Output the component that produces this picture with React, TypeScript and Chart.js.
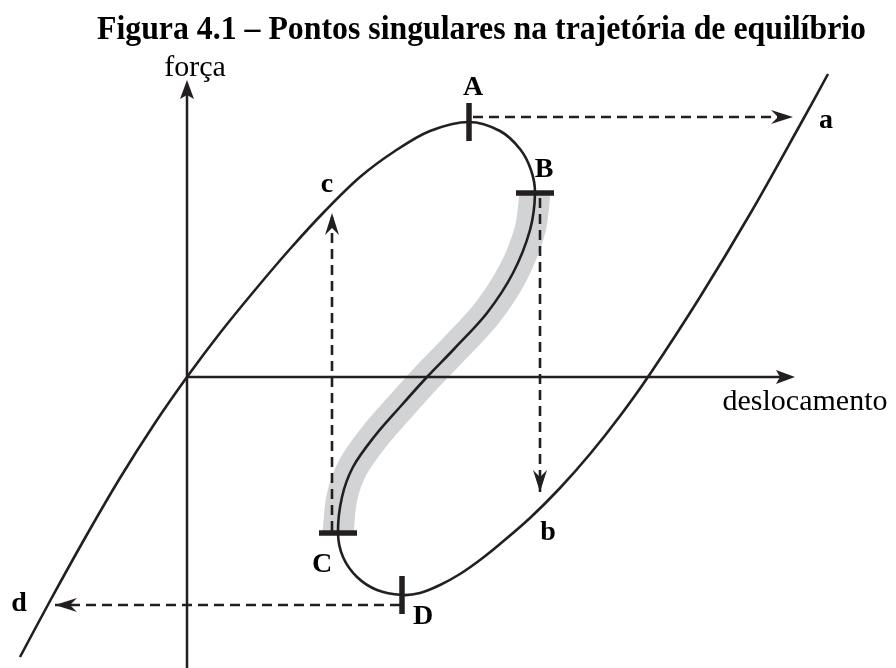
import { useEffect, useRef } from "react";
import { Chart, registerables } from "chart.js";

Chart.register(...registerables);

const TITLE = "Figura 4.1 – Pontos singulares na trajetória de equilíbrio";
const X_LABEL = "deslocamento";
const Y_LABEL = "força";

// Equilibrium path (deslocamento, força), traced from d up to a
const pathX = [
  -16.7, -13.7, -10.2, -6.7, -3.2, 0.0, 3.3, 6.8, 10.3, 13.8, 17.3, 20.8, 24.3, 28.2, 31.3, 33.3, 34.4, 34.8,
  34.3, 32.6, 30.0, 26.8, 24.0, 21.3, 18.7, 16.6, 15.5, 15.1, 15.6, 17.0, 19.0, 21.5, 23.3, 25.3, 27.3, 29.3,
  31.3, 34.3, 37.3, 40.3, 43.3, 46.3, 51.3, 56.3, 61.3, 64.1,
];
const pathY = [
  -28.0, -22.4, -16.1, -10.1, -4.6, 0.0, 4.4, 8.7, 12.8, 16.6, 20.0, 22.6, 24.6, 25.5, 24.6, 22.8, 20.7, 18.4,
  14.7, 10.4, 6.4, 2.9, 0.0, -3.0, -6.0, -9.0, -12.0, -15.6, -18.0, -20.0, -21.3, -21.8, -21.6, -20.8, -19.7,
  -18.3, -16.7, -14.1, -11.1, -7.7, -3.9, 0.3, 8.0, 16.3, 25.2, 30.3,
];

// Unstable branch B–C (shaded), indices into the path
const unstableStart = 17;
const unstableEnd = 27;

// Singular points on the path
const singularNames = ["A", "B", "C", "D"];
const singularX = [28.2, 34.8, 15.1, 21.5];
const singularY = [25.5, 18.4, -15.6, -21.8];
const singularMarkVertical = [true, false, false, true];

// Snap-through jumps (dashed arrows)
const jumpFromX = [28.6, 35.3, 14.5, 21.3];
const jumpFromY = [26.0, 17.9, -15.4, -22.8];
const jumpToX = [60.6, 35.3, 14.5, -13.2];
const jumpToY = [26.0, -11.5, 16.4, -22.8];

// Point labels
const pointLabels = ["A", "B", "C", "D", "a", "b", "c", "d"];
const pointLabelX = [28.6, 35.7, 13.5, 23.6, 63.9, 36.1, 14.0, -16.8];
const pointLabelY = [28.9, 20.7, -18.8, -24.0, 25.6, -15.6, 19.2, -22.7];

// Axes extents
const axisXEnd = 60.8;
const axisYStart = -29.1;
const axisYEnd = 29.7;

const INK = "#231f20";
const SHADE = "#d1d3d4";
const SERIF = "'Liberation Serif', 'Times New Roman', serif";

type Pt = { x: number; y: number };

function drawStealth(
  ctx: CanvasRenderingContext2D,
  tip: Pt,
  from: Pt,
  len: number,
  halfW: number,
  notch: number
) {
  const a = Math.atan2(tip.y - from.y, tip.x - from.x);
  const dx = Math.cos(a);
  const dy = Math.sin(a);
  const px = -dy;
  const py = dx;
  ctx.beginPath();
  ctx.moveTo(tip.x, tip.y);
  ctx.lineTo(tip.x - len * dx + halfW * px, tip.y - len * dy + halfW * py);
  ctx.lineTo(tip.x - notch * dx, tip.y - notch * dy);
  ctx.lineTo(tip.x - len * dx - halfW * px, tip.y - len * dy - halfW * py);
  ctx.closePath();
  ctx.fillStyle = INK;
  ctx.fill();
}

const decorations = {
  id: "decorations",
  afterDatasetsDraw(chart: Chart) {
    const { ctx } = chart;
    const sx = chart.scales.x;
    const sy = chart.scales.y;
    const P = (x: number, y: number): Pt => ({ x: sx.getPixelForValue(x), y: sy.getPixelForValue(y) });

    ctx.save();
    // axis arrowheads
    drawStealth(ctx, P(0, axisYEnd), P(0, 0), 19, 7, 15);
    drawStealth(ctx, P(axisXEnd, 0), P(0, 0), 19, 7, 15);
    // jump arrowheads
    for (let i = 0; i < jumpToX.length; i++) {
      drawStealth(ctx, P(jumpToX[i], jumpToY[i]), P(jumpFromX[i], jumpFromY[i]), 22, 7, 15);
    }

    // point labels
    ctx.fillStyle = "#000";
    ctx.textAlign = "center";
    ctx.textBaseline = "middle";
    ctx.font = `bold 28px ${SERIF}`;
    pointLabels.forEach((t, i) => {
      const p = P(pointLabelX[i], pointLabelY[i]);
      ctx.fillText(t, p.x, p.y);
    });

    // axis titles
    ctx.font = `30px ${SERIF}`;
    const yl = P(0.8, 30.9);
    ctx.fillText(Y_LABEL, yl.x, yl.y);
    const xl = P(61.8, -2.5);
    ctx.fillText(X_LABEL, xl.x, xl.y);

    // figure title (condensed bold serif)
    ctx.font = `bold 33px ${SERIF}`;
    const w = ctx.measureText(TITLE).width;
    const k = 769 / w;
    ctx.translate(481.5, 39);
    ctx.scale(k, 1);
    ctx.textBaseline = "alphabetic";
    ctx.fillText(TITLE, 0, 0);
    ctx.restore();
  },
};

export default function App() {
  const ref = useRef<HTMLCanvasElement | null>(null);

  useEffect(() => {
    if (!ref.current) return;
    const pts = (xs: number[], ys: number[]) => xs.map((x, i) => ({ x, y: ys[i] }));
    const path = pts(pathX, pathY);
    const unstable = path.slice(unstableStart, unstableEnd + 1);

    const line = (data: Pt[], extra: Record<string, unknown> = {}) => ({
      data,
      showLine: true,
      pointRadius: 0,
      borderColor: INK,
      borderWidth: 2.5,
      tension: 0,
      fill: false,
      order: 1,
      ...extra,
    });

    const markLen = 1.9;
    const marks = singularNames.map((_, i) =>
      line(
        singularMarkVertical[i]
          ? [
              { x: singularX[i], y: singularY[i] - markLen },
              { x: singularX[i], y: singularY[i] + markLen },
            ]
          : [
              { x: singularX[i] - markLen, y: singularY[i] },
              { x: singularX[i] + markLen, y: singularY[i] },
            ],
        { borderWidth: 5.5, borderCapStyle: "butt", order: 0 }
      )
    );

    const jumps = jumpFromX.map((_, i) =>
      line(
        [
          { x: jumpFromX[i], y: jumpFromY[i] },
          { x: jumpToX[i], y: jumpToY[i] },
        ],
        { borderDash: [10, 6], borderWidth: 2.6 }
      )
    );

    const chart = new Chart(ref.current, {
      type: "scatter",
      data: {
        datasets: [
          line(unstable, { borderColor: SHADE, borderWidth: 31, tension: 0.33, borderCapStyle: "butt", order: 5 }),
          line(path, { tension: 0.33, borderWidth: 2.6, order: 2 }),
          line([{ x: 0, y: axisYStart }, { x: 0, y: axisYEnd - 1.2 }], { borderWidth: 2.5 }),
          line([{ x: 0, y: 0 }, { x: axisXEnd - 1.2, y: 0 }], { borderWidth: 2.5 }),
          ...jumps,
          ...marks,
        ],
      },
      options: {
        responsive: false,
        animation: false,
        layout: { padding: 0 },
        scales: {
          x: { type: "linear", min: -18.7, max: 70.9, display: false },
          y: { type: "linear", min: -29.1, max: 37.7, display: false },
        },
        plugins: { legend: { display: false }, tooltip: { enabled: false }, title: { display: false } },
        events: [],
      },
      plugins: [decorations],
    });
    return () => chart.destroy();
  }, []);

  return (
    <div style={{ position: "absolute", left: 0, top: 0, width: 896, height: 668, background: "#fff" }}>
      <canvas ref={ref} width={896} height={668} style={{ display: "block" }} />
    </div>
  );
}
